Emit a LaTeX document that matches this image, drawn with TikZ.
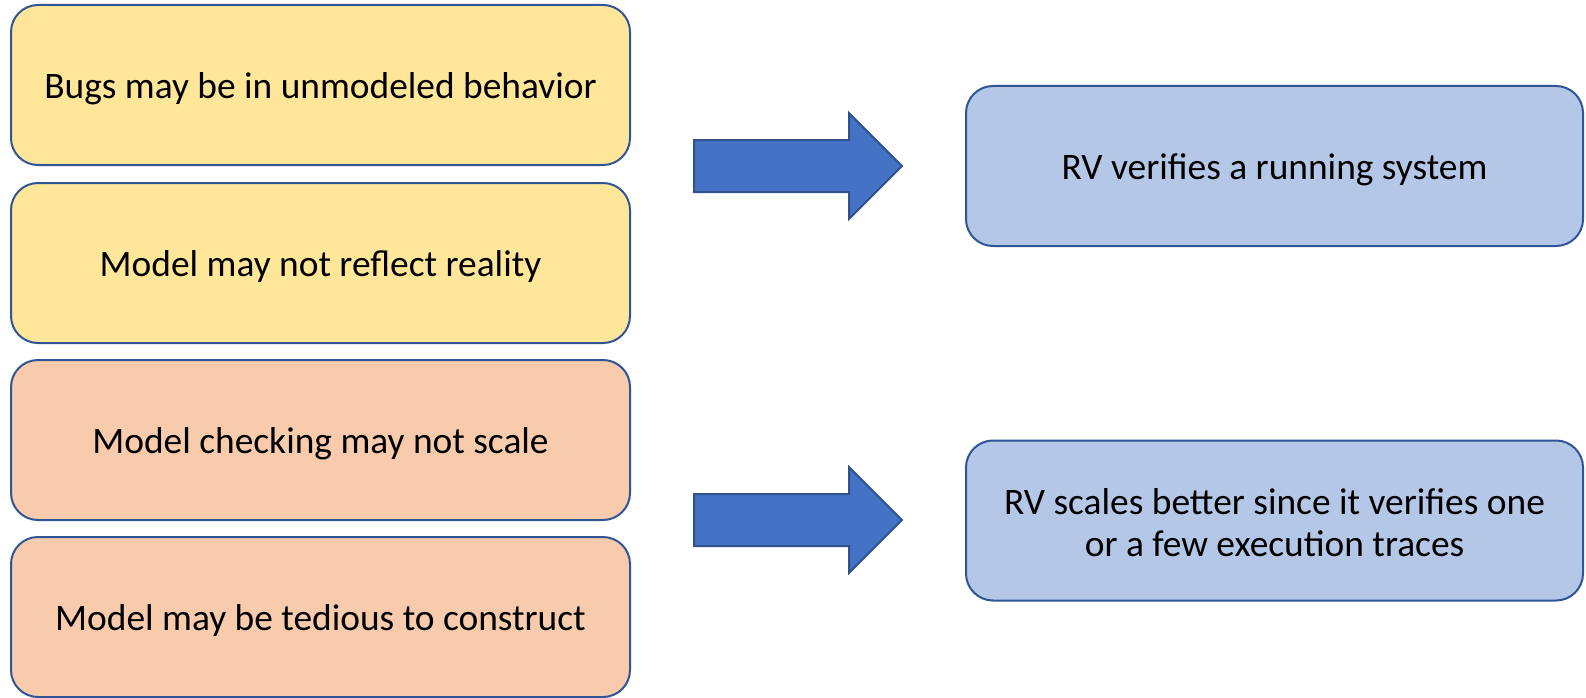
\documentclass[tikz,border=0pt]{standalone}
\usepackage{fontspec}
\setmainfont{Carlito}
\definecolor{boxline}{HTML}{2F5597}
\definecolor{goldfill}{HTML}{FFE699}
\definecolor{peachfill}{HTML}{F8CBAD}
\definecolor{bluefill}{HTML}{B4C7E7}
\definecolor{arrowfill}{HTML}{4472C4}
\definecolor{arrowline}{HTML}{2F528F}
\tikzset{
  card/.style={draw=boxline, line width=2pt, rounded corners=27pt,
    minimum height=160pt, inner sep=0pt},
  leftcard/.style={card, minimum width=619pt},
  rightcard/.style={card, minimum width=617pt, fill=bluefill},
  cardtext/.style={inner sep=0pt, align=center, yshift=-4pt,
    font=\fontsize{37.4}{41.5}\selectfont},
  blockarrow/.style={draw=arrowline, line width=2pt, fill=arrowfill, line join=miter}
}
\begin{document}
\begin{tikzpicture}[x=1pt,y=-1pt]
\useasboundingbox (0,0) rectangle (1586,698);
% problems with model checking
\node[leftcard, fill=goldfill]  (bugs)    at (320.5,85)  {};
\node[leftcard, fill=goldfill]  (reality) at (320.5,263) {};
\node[leftcard, fill=peachfill] (scale)   at (320.5,440) {};
\node[leftcard, fill=peachfill] (tedious) at (320.5,617) {};
\node[cardtext] (bugs-t)    at (bugs.center)    {Bugs may be in unmodeled behavior};
\node[cardtext] (reality-t) at (reality.center) {Model may not reflect reality};
\node[cardtext] (scale-t)   at (scale.center)   {Model checking may not scale};
\node[cardtext] (tedious-t) at (tedious.center) {Model may be tedious to construct};
% runtime verification answers
\node[rightcard] (running) at (1274.5,166) {};
\node[rightcard] (traces)  at (1274.5,520.5) {};
\node[cardtext] (running-t) at (running.center) {RV verifies a running system};
\node[cardtext, yshift=2pt] (traces-t) at (traces.center) {RV scales better since it verifies one\\or a few execution traces};
% block arrows
\draw[blockarrow] (694,140) -- (849,140) -- (849,113) -- (902,166) -- (849,219) -- (849,192) -- (694,192) -- cycle;
\draw[blockarrow] (694,494) -- (849,494) -- (849,467) -- (902,520) -- (849,573) -- (849,546) -- (694,546) -- cycle;
\end{tikzpicture}
\end{document}
